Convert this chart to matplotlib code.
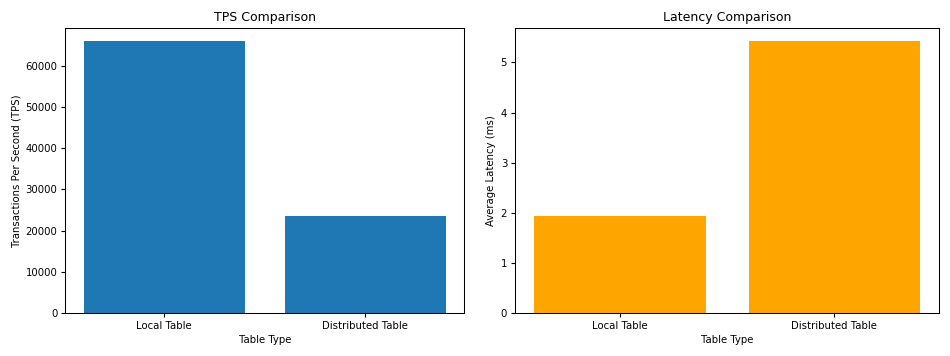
import matplotlib
matplotlib.use("Agg")
import matplotlib.pyplot as plt

categories = ["Local Table", "Distributed Table"]
tps_values = [65880, 23650]
latency_values = [1.934, 5.42]

fig = plt.figure(figsize=(9.5, 3.56), dpi=100)
ax1 = fig.add_axes([0.0689, 0.1199, 0.4195, 0.8022])
ax2 = fig.add_axes([0.5421, 0.1199, 0.4466, 0.8022])

fs_title = 9
fs = 7.3

ax1.bar(categories, tps_values, color="#1f77b4")
ax1.set_title("TPS Comparison", fontsize=fs_title, pad=4.5)
ax1.set_xlabel("Table Type", fontsize=fs, labelpad=3)
ax1.set_ylabel("Transactions Per Second (TPS)", fontsize=fs, labelpad=3)
ax1.tick_params(labelsize=fs, length=3.2, pad=2.5)

ax2.bar(categories, latency_values, color="orange")
ax2.set_title("Latency Comparison", fontsize=fs_title, pad=4.5)
ax2.set_xlabel("Table Type", fontsize=fs, labelpad=3)
ax2.set_ylabel("Average Latency (ms)", fontsize=fs, labelpad=3)
ax2.tick_params(labelsize=fs, length=3.2, pad=2.5)

for ax in (ax1, ax2):
    for s in ax.spines.values():
        s.set_linewidth(0.75)

fig.savefig("out.png", dpi=100)
